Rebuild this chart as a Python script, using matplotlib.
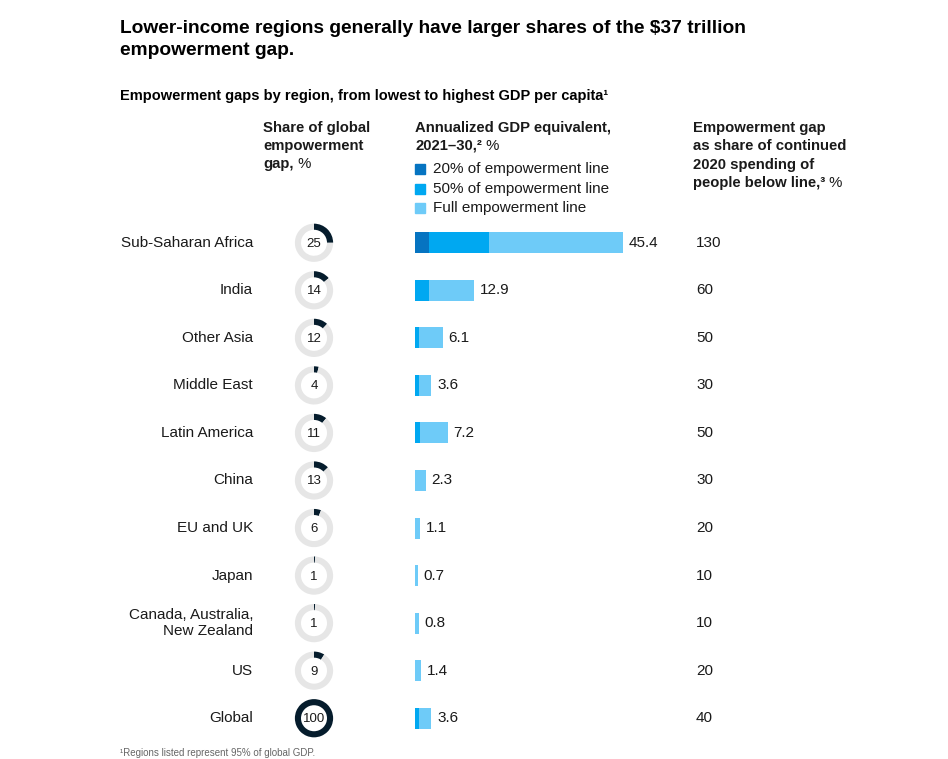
import matplotlib
matplotlib.use('Agg')
import matplotlib.pyplot as plt
from matplotlib.patches import Rectangle
import matplotlib.transforms as mtransforms

plt.rcParams['font.family'] = ['Liberation Sans', 'DejaVu Sans']

# Daten
regions = ['Sub-Saharan Africa', 'India', 'Other Asia', 'Middle East', 'Latin America',
           'China', 'EU and UK', 'Japan', 'Canada, Australia,\nNew Zealand', 'US', 'Global']
share = [25, 14, 12, 4, 11, 13, 6, 1, 1, 9, 100]
gdp_20 = [3.0, 0, 0, 0, 0, 0, 0, 0, 0, 0, 0]
gdp_50 = [16.1, 3.0, 0.9, 0.9, 1.0, 0, 0, 0, 0, 0, 0.8]
gdp_full = [45.4, 12.9, 6.1, 3.6, 7.2, 2.3, 1.1, 0.7, 0.8, 1.4, 3.6]
gap_spending = [130, 60, 50, 30, 50, 30, 20, 10, 10, 20, 40]

c_dark = '#0674c1'
c_mid = '#00a8f1'
c_light = '#6ecbf8'
c_navy = '#051c2c'
c_ring = '#e6e6e6'
txt = '#1a1a1a'

W, H = 948, 759
fig = plt.figure(figsize=(W / 100, H / 100), dpi=100)

def fx(px):
    return px / W

def fy(py):
    return 1 - py / H

# Balken-Achse zuerst (für Annotationen)
n = len(regions)
ax = fig.add_axes([fx(415), fy(742), fx(265), (742 - 219) / H])

# Titel
fig.text(fx(120), fy(20), 'Lower-income regions generally have larger shares of the $37 trillion\nempowerment gap.',
         fontsize=13.8, fontweight='bold', va='top', ha='left', color='#000000', linespacing=1.42)
fig.text(fx(120), fy(96), 'Empowerment gaps by region, from lowest to highest GDP per capita¹',
         fontsize=10.5, fontweight='bold', va='center', ha='left', color='#000000')

# Spaltenköpfe
hs = 10.7

def suffix(t):
    ax.annotate(' %', xy=(1, 0), xycoords=t, va='bottom', ha='left', fontsize=hs,
                color=txt, annotation_clip=False)

for i, line in enumerate(['Share of global', 'empowerment']):
    fig.text(fx(263), fy(128 + 18 * i), line, fontsize=hs, fontweight='bold', va='center', color=txt)
t = fig.text(fx(263), fy(164), 'gap,', fontsize=hs, fontweight='bold', va='center', color=txt)
suffix(t)

fig.text(fx(415), fy(128), 'Annualized GDP equivalent,', fontsize=hs, fontweight='bold', va='center', color=txt)
t2 = fig.text(fx(415), fy(146), '2021–30,²', fontsize=hs, fontweight='bold', va='center', color=txt)
suffix(t2)

for i, line in enumerate(['Empowerment gap', 'as share of continued', '2020 spending of']):
    fig.text(fx(693), fy(128 + 18.3 * i), line, fontsize=hs, fontweight='bold', va='center', color=txt)
t3 = fig.text(fx(693), fy(183), 'people below line,³', fontsize=hs, fontweight='bold', va='center', color=txt)
suffix(t3)

# Legende
legend_items = [('20% of empowerment line', c_dark), ('50% of empowerment line', c_mid),
                ('Full empowerment line', c_light)]
for i, (lab, col) in enumerate(legend_items):
    yc = 169 + 19.5 * i
    fig.patches.append(Rectangle((fx(415), fy(yc + 5)), fx(10), 10 / H, color=col,
                                 transform=fig.transFigure, figure=fig))
    fig.text(fx(433), fy(yc), lab, fontsize=11, va='center', color=txt)

# Balken
xmax = 265 / 4.58
ax.set_xlim(0, xmax)
ax.set_ylim(n - 0.5, -0.5)
ypos = list(range(n))
bh = 0.44
ax.barh(ypos, gdp_full, height=bh, color=c_light, left=0)
ax.barh(ypos, gdp_50, height=bh, color=c_mid, left=0)
ax.barh(ypos, gdp_20, height=bh, color=c_dark, left=0)
for y, v in zip(ypos, gdp_full):
    ax.annotate(f'{v}', xy=(v, y), xytext=(4, 0), textcoords='offset points',
                va='center', ha='left', fontsize=11, color=txt, annotation_clip=False)
ax.axis('off')

# Regionen und rechte Spalte
tr_lab = mtransforms.blended_transform_factory(fig.transFigure, ax.transData)
for y, name, g in zip(ypos, regions, gap_spending):
    fig.text(fx(253), y, name, transform=tr_lab, ha='right', va='center', fontsize=11,
             color=txt, linespacing=1.2)
    fig.text(fx(696), y, str(g), transform=tr_lab, ha='left', va='center', fontsize=11, color=txt)

# Donuts
fig.canvas.draw()
r_px = 19.5
for y, s in zip(ypos, share):
    _, yd = ax.transData.transform((0, y))
    yf = yd / H
    dax = fig.add_axes([fx(314 - r_px), yf - r_px / H, fx(2 * r_px), 2 * r_px / H])
    vals = [s, 100 - s] if s < 100 else [100]
    cols = [c_navy, c_ring] if s < 100 else [c_navy]
    dax.pie(vals, colors=cols, startangle=90, counterclock=False,
            wedgeprops=dict(width=0.32, edgecolor='none'))
    dax.set_xlim(-1.02, 1.02)
    dax.set_ylim(-1.02, 1.02)
    dax.set_aspect('equal')
    dax.text(0, -0.05, str(s), ha='center', va='center', fontsize=9.5, color=txt)

# Fußnote (im Original abgeschnitten)
fig.text(fx(120), fy(758), '¹Regions listed represent 95% of global GDP.', fontsize=7,
         va='bottom', ha='left', color='#666666')

fig.savefig('out.png', dpi=100)
